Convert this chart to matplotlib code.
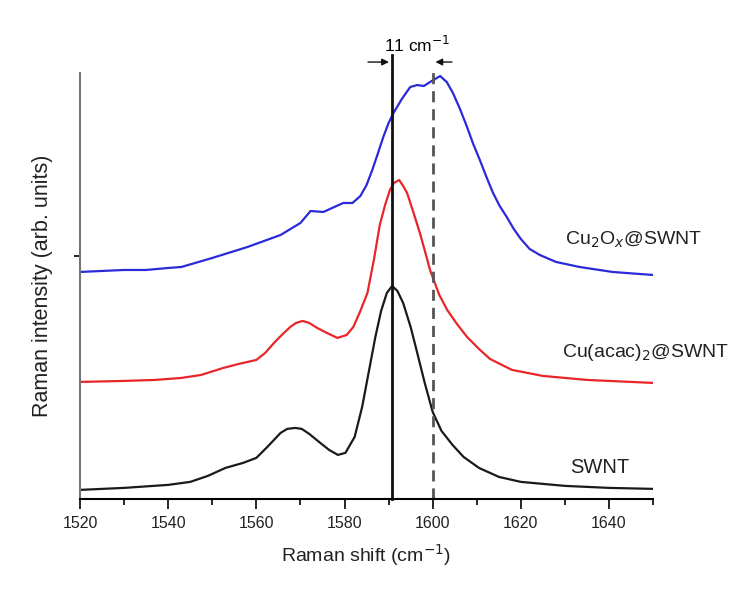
import matplotlib
matplotlib.use('Agg')
import matplotlib.pyplot as plt
from matplotlib.ticker import MultipleLocator

plt.rcParams['font.family'] = ['Liberation Sans', 'DejaVu Sans']

# SWNT (black)
swnt_x = [1520, 1530, 1540, 1545, 1549, 1553, 1557, 1560, 1562.5, 1565.5, 1567,
          1568.8, 1570.3, 1572, 1574.5, 1576.5, 1578.5, 1580.2, 1582.3, 1584,
          1585.5, 1587, 1588.3, 1589.6, 1590.8, 1592, 1593.3, 1595, 1596.5,
          1598.2, 1600, 1602, 1604.5, 1607, 1610.5, 1615, 1620, 1630, 1640, 1650]
swnt_y = [0.05, 0.07, 0.10, 0.13, 0.19, 0.27, 0.32, 0.37, 0.48, 0.62, 0.66,
          0.67, 0.66, 0.61, 0.52, 0.45, 0.40, 0.42, 0.58, 0.88,
          1.23, 1.58, 1.84, 2.02, 2.09, 2.04, 1.92, 1.68, 1.42,
          1.12, 0.83, 0.64, 0.50, 0.38, 0.27, 0.18, 0.13, 0.09, 0.07, 0.06]

# Cu(acac)2@SWNT (red)
acac_x = [1520, 1530, 1537, 1543, 1547.5, 1552.5, 1556, 1560, 1562, 1564, 1566,
          1567.7, 1569, 1570.5, 1572, 1573.8, 1576, 1578.4, 1580.5, 1582, 1583.5,
          1585.2, 1586.7, 1588, 1589.2, 1590.3, 1591.2, 1592.4, 1593.3, 1594.2,
          1595.6, 1597.1, 1598.3, 1599.4, 1601.5, 1603.3, 1605.5, 1607.8, 1610.5,
          1613, 1618, 1625, 1635, 1650]
acac_y = [1.13, 1.14, 1.15, 1.17, 1.20, 1.27, 1.31, 1.35, 1.42, 1.52, 1.61,
          1.68, 1.72, 1.74, 1.72, 1.67, 1.62, 1.57, 1.60, 1.68, 1.83,
          2.02, 2.36, 2.70, 2.90, 3.05, 3.12, 3.15, 3.09, 3.02,
          2.83, 2.62, 2.43, 2.25, 2.00, 1.85, 1.71, 1.58, 1.46,
          1.36, 1.25, 1.19, 1.15, 1.12]

# Cu2Ox@SWNT (blue)
cuox_x = [1520, 1525, 1530, 1535, 1540, 1543, 1550, 1558, 1565.5, 1570, 1572.3,
          1575.2, 1579.7, 1581.8, 1583.6, 1585, 1586.3, 1587.6, 1588.8, 1590,
          1591.1, 1593, 1594.9, 1596.5, 1598, 1599.4, 1601.7, 1603.2, 1604.6,
          1606.2, 1607.8, 1609.2, 1610.7, 1612.2, 1613.7, 1615.2, 1616.8, 1618.4,
          1620, 1622, 1624.3, 1628, 1633.3, 1640.8, 1650]
cuox_y = [2.23, 2.24, 2.25, 2.25, 2.27, 2.28, 2.37, 2.48, 2.60, 2.72, 2.84,
          2.83, 2.92, 2.92, 2.99, 3.10, 3.25, 3.42, 3.58, 3.72,
          3.82, 3.96, 4.08, 4.10, 4.09, 4.13, 4.19, 4.13, 4.02,
          3.86, 3.68, 3.51, 3.35, 3.18, 3.02, 2.89, 2.78, 2.66,
          2.56, 2.46, 2.40, 2.33, 2.28, 2.23, 2.20]

peak_swnt = 1590.7
peak_cuox = 1600

fig = plt.figure(figsize=(7.55, 5.89), dpi=100)
ax = fig.add_axes([0.106, 0.153, 0.759, 0.723])

ax.plot(swnt_x, swnt_y, color='#1a1a1a', lw=1.6)
ax.plot(acac_x, acac_y, color='#e8262a', lw=1.6)
ax.plot(cuox_x, cuox_y, color='#2a2ad8', lw=1.6)

ax.plot([peak_swnt, peak_swnt], [-0.04, 4.40], color='#111111', lw=2, clip_on=False)
ax.plot([peak_cuox, peak_cuox], [-0.04, 4.25], color='#555555', lw=2,
        linestyle=(0, (4, 2.5)), clip_on=False)

ax.annotate('', xy=(peak_swnt, 4.33), xytext=(peak_swnt - 6, 4.33),
            arrowprops=dict(arrowstyle='-|>', color='#111111', lw=1, mutation_scale=10),
            annotation_clip=False)
ax.annotate('', xy=(peak_cuox, 4.33), xytext=(peak_cuox + 5, 4.33),
            arrowprops=dict(arrowstyle='-|>', color='#111111', lw=1, mutation_scale=10),
            annotation_clip=False)
ax.text(1596.5, 4.50, '11 cm$^{-1}$', ha='center', va='center', fontsize=12.5,
        clip_on=False)

ax.text(1630, 2.55, 'Cu$_2$O$_x$@SWNT', fontsize=14, va='center', color='#222222')
ax.text(1629.3, 1.42, 'Cu(acac)$_2$@SWNT', fontsize=14, va='center', color='#222222')
ax.text(1631.2, 0.27, 'SWNT', fontsize=14.5, va='center', color='#222222')

ax.set_xlim(1520, 1650)
ax.set_ylim(-0.04, 4.22)
ax.xaxis.set_major_locator(MultipleLocator(20))
ax.xaxis.set_minor_locator(MultipleLocator(10))
ax.set_yticks([2.39])
ax.set_yticklabels([''])
ax.tick_params(axis='x', which='major', direction='out', length=7, width=1.2,
               labelsize=11.5, pad=5, labelcolor='#222222')
ax.tick_params(axis='x', which='minor', direction='out', length=4, width=1.2)
ax.tick_params(axis='y', direction='out', length=4, width=1.2)

ax.spines['top'].set_visible(False)
ax.spines['right'].set_visible(False)
ax.spines['left'].set_color('#777777')
ax.spines['left'].set_linewidth(1.5)
ax.spines['bottom'].set_linewidth(1.5)

ax.set_xlabel('Raman shift (cm$^{-1}$)', fontsize=14, labelpad=8, color='#222222')
ax.set_ylabel('Raman intensity (arb. units)', fontsize=15.5, labelpad=12, color='#222222')

fig.savefig('out.png', dpi=100)
